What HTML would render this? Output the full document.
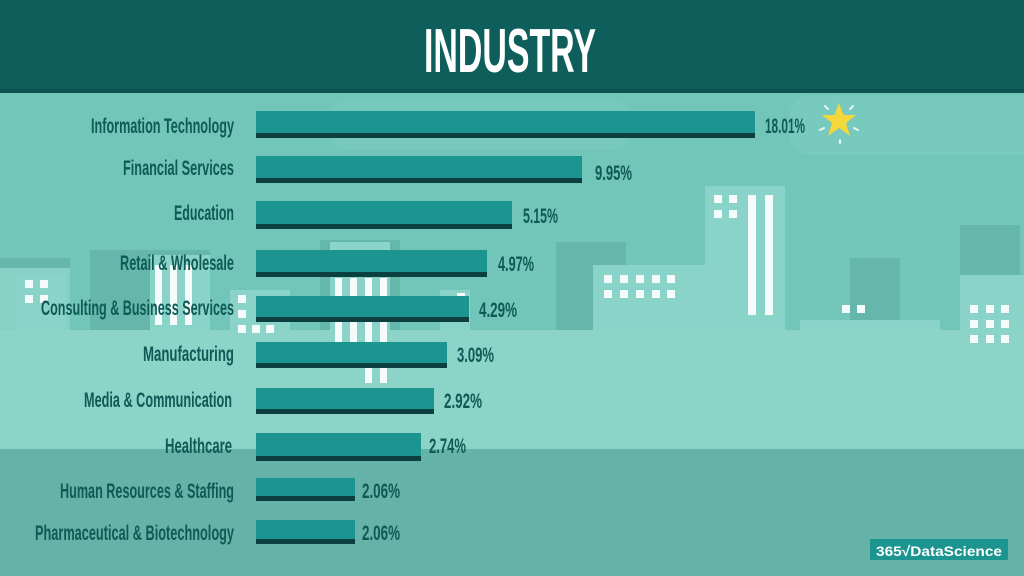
<!DOCTYPE html>
<html><head><meta charset="utf-8"><style>
html,body{margin:0;padding:0;width:1024px;height:576px;overflow:hidden;background:#71c6b9}
svg{display:block}
text{font-family:"Liberation Sans",sans-serif;font-weight:bold}
.l{fill:#0f5a55;font-size:21px}
</style></head><body>
<svg width="1024" height="576" viewBox="0 0 1024 576">
<rect width="1024" height="576" fill="#71c6b9"/>
<rect x="790" y="95" width="300" height="60" rx="20" fill="#79cabe"/>
<rect x="330" y="100" width="300" height="50" rx="15" fill="#76c9bc"/>
<rect x="0" y="258" width="70" height="200" fill="#66b7ab"/>
<rect x="90" y="250" width="120" height="200" fill="#66b7ab"/>
<rect x="320" y="240" width="80" height="210" fill="#66b7ab"/>
<rect x="556" y="242" width="70" height="210" fill="#66b7ab"/>
<rect x="850" y="258" width="50" height="200" fill="#66b7ab"/>
<rect x="960" y="225" width="60" height="230" fill="#66b7ab"/>
<rect x="0" y="268" width="70" height="190" fill="#86d0c4"/>
<rect x="16" y="275" width="50" height="180" fill="#8ad3c8"/>
<rect x="150" y="255" width="60" height="200" fill="#8ad3c8"/>
<rect x="230" y="290" width="60" height="170" fill="#8ad3c8"/>
<rect x="330" y="242" width="60" height="210" fill="#8ad3c8"/>
<rect x="440" y="290" width="30" height="170" fill="#8ad3c8"/>
<rect x="593" y="265" width="112" height="190" fill="#8ad3c8"/>
<rect x="705" y="186" width="80" height="270" fill="#8ad3c8"/>
<rect x="800" y="320" width="140" height="140" fill="#8ad3c8"/>
<rect x="960" y="275" width="64" height="180" fill="#8ad3c8"/>
<rect x="0" y="330" width="1024" height="120" fill="#8cd3c8"/>
<g fill="#f4fbfa">
<rect x="25" y="280" width="8" height="8"/><rect x="40" y="280" width="8" height="8"/><rect x="25" y="295" width="8" height="8"/><rect x="40" y="295" width="8" height="8"/>
<rect x="155" y="265" width="7" height="60"/><rect x="170" y="265" width="7" height="60"/><rect x="185" y="265" width="7" height="60"/>
<rect x="335" y="278" width="7" height="70"/><rect x="350" y="278" width="7" height="70"/><rect x="365" y="278" width="7" height="105"/><rect x="380" y="278" width="7" height="105"/>
<rect x="238" y="295" width="8" height="8"/><rect x="238" y="310" width="8" height="8"/><rect x="238" y="325" width="8" height="8"/><rect x="252" y="325" width="8" height="8"/><rect x="266" y="325" width="8" height="8"/>
<rect x="457" y="293" width="8" height="8"/><rect x="457" y="308" width="8" height="8"/>
<rect x="604" y="275" width="8" height="8"/><rect x="620" y="275" width="8" height="8"/><rect x="636" y="275" width="8" height="8"/><rect x="652" y="275" width="8" height="8"/><rect x="667" y="275" width="8" height="8"/>
<rect x="604" y="290" width="8" height="8"/><rect x="620" y="290" width="8" height="8"/><rect x="636" y="290" width="8" height="8"/><rect x="652" y="290" width="8" height="8"/><rect x="667" y="290" width="8" height="8"/>
<rect x="714" y="195" width="8" height="8"/><rect x="729" y="195" width="8" height="8"/><rect x="714" y="210" width="8" height="8"/><rect x="729" y="210" width="8" height="8"/>
<rect x="748" y="195" width="8" height="120"/><rect x="765" y="195" width="8" height="120"/>
<rect x="842" y="305" width="8" height="8"/><rect x="857" y="305" width="8" height="8"/>
<rect x="970" y="305" width="8" height="8"/><rect x="986" y="305" width="8" height="8"/><rect x="1001" y="305" width="8" height="8"/>
<rect x="970" y="320" width="8" height="8"/><rect x="986" y="320" width="8" height="8"/><rect x="1001" y="320" width="8" height="8"/>
<rect x="970" y="335" width="8" height="8"/><rect x="986" y="335" width="8" height="8"/><rect x="1001" y="335" width="8" height="8"/>
</g>
<rect x="0" y="449" width="1024" height="127" fill="#65b3a8"/>
<rect x="0" y="0" width="1024" height="93" fill="#0e5f5b"/>
<rect x="0" y="89" width="1024" height="4" fill="#0a5350"/>
<text x="510" y="72" text-anchor="middle" fill="#fff" font-size="62" textLength="172" lengthAdjust="spacingAndGlyphs">INDUSTRY</text>
<g>
<rect x="256" y="111" width="499" height="27" fill="#1c9490"/><rect x="256" y="133" width="499" height="5" fill="#0c3f3f"/>
<rect x="256" y="156" width="326" height="27" fill="#1c9490"/><rect x="256" y="178" width="326" height="5" fill="#0c3f3f"/>
<rect x="256" y="201" width="256" height="28" fill="#1c9490"/><rect x="256" y="224" width="256" height="5" fill="#0c3f3f"/>
<rect x="256" y="250" width="231" height="27" fill="#1c9490"/><rect x="256" y="272" width="231" height="5" fill="#0c3f3f"/>
<rect x="256" y="296" width="213" height="26" fill="#1c9490"/><rect x="256" y="317" width="213" height="5" fill="#0c3f3f"/>
<rect x="256" y="342" width="191" height="26" fill="#1c9490"/><rect x="256" y="363" width="191" height="5" fill="#0c3f3f"/>
<rect x="256" y="388" width="178" height="26" fill="#1c9490"/><rect x="256" y="409" width="178" height="5" fill="#0c3f3f"/>
<rect x="256" y="433" width="165" height="28" fill="#1c9490"/><rect x="256" y="456" width="165" height="5" fill="#0c3f3f"/>
<rect x="256" y="478" width="99" height="23" fill="#1c9490"/><rect x="256" y="496" width="99" height="5" fill="#0c3f3f"/>
<rect x="256" y="520" width="99" height="24" fill="#1c9490"/><rect x="256" y="539" width="99" height="5" fill="#0c3f3f"/>
</g>
<g class="l" text-anchor="end">
<text x="234" y="133" textLength="143" lengthAdjust="spacingAndGlyphs">Information Technology</text>
<text x="234" y="175" textLength="111" lengthAdjust="spacingAndGlyphs">Financial Services</text>
<text x="234" y="220" textLength="60" lengthAdjust="spacingAndGlyphs">Education</text>
<text x="234" y="270" textLength="114" lengthAdjust="spacingAndGlyphs">Retail &amp; Wholesale</text>
<text x="234" y="315" textLength="193" lengthAdjust="spacingAndGlyphs">Consulting &amp; Business Services</text>
<text x="234" y="361" textLength="91" lengthAdjust="spacingAndGlyphs">Manufacturing</text>
<text x="232" y="407" textLength="148" lengthAdjust="spacingAndGlyphs">Media &amp; Communication</text>
<text x="232" y="453" textLength="67" lengthAdjust="spacingAndGlyphs">Healthcare</text>
<text x="234" y="498" textLength="174" lengthAdjust="spacingAndGlyphs">Human Resources &amp; Staffing</text>
<text x="234" y="540" textLength="199" lengthAdjust="spacingAndGlyphs">Pharmaceutical &amp; Biotechnology</text>
</g>
<g class="l">
<text x="765" y="133" textLength="40" lengthAdjust="spacingAndGlyphs">18.01%</text>
<text x="595" y="180" textLength="37" lengthAdjust="spacingAndGlyphs">9.95%</text>
<text x="523" y="223" textLength="35" lengthAdjust="spacingAndGlyphs">5.15%</text>
<text x="498" y="271" textLength="36" lengthAdjust="spacingAndGlyphs">4.97%</text>
<text x="479" y="317" textLength="38" lengthAdjust="spacingAndGlyphs">4.29%</text>
<text x="457" y="362" textLength="37" lengthAdjust="spacingAndGlyphs">3.09%</text>
<text x="444" y="408" textLength="38" lengthAdjust="spacingAndGlyphs">2.92%</text>
<text x="429" y="453" textLength="37" lengthAdjust="spacingAndGlyphs">2.74%</text>
<text x="362" y="498" textLength="38" lengthAdjust="spacingAndGlyphs">2.06%</text>
<text x="362" y="540" textLength="38" lengthAdjust="spacingAndGlyphs">2.06%</text>
</g>
<polygon points="839,103 843.5,115 856,115 846,123 850,136 839,128 828,136 832,123 822,115 834.5,115" fill="#f4d73a"/>
<g stroke="#e9f7f4" stroke-width="2" stroke-linecap="round">
<line x1="825" y1="106" x2="828" y2="109"/><line x1="853" y1="106" x2="850" y2="109"/>
<line x1="820" y1="130" x2="824" y2="128"/><line x1="858" y1="130" x2="854" y2="128"/>
<line x1="840" y1="140" x2="840" y2="143"/>
</g>
<rect x="870" y="539" width="138" height="21" fill="#1c9490"/>
<text x="876" y="556" fill="#fff" font-size="14" font-weight="normal" textLength="126" lengthAdjust="spacingAndGlyphs">365√DataScience</text>
</svg>
</body></html>
